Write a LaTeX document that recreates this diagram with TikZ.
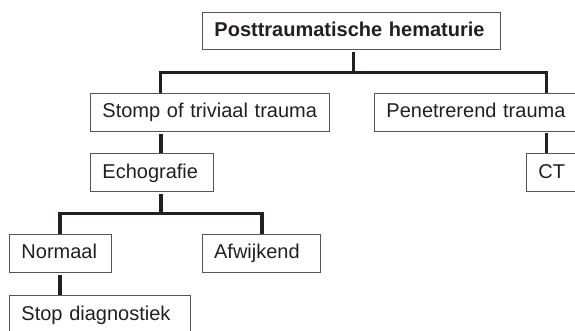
\documentclass[tikz,border=0pt]{standalone}
\usepackage{fontspec}
\setmainfont{Liberation Sans}
\definecolor{ink}{HTML}{231F20}
\definecolor{boxc}{HTML}{555555}
\tikzset{
  box/.style={draw=boxc, line width=0.9pt, inner xsep=12pt, inner ysep=0pt,
    minimum height=38pt, text height=14.5pt, text depth=4pt, align=left,
    anchor=north west, text=ink, font=\fontsize{20}{24}\selectfont},
  conn/.style={draw=ink, line width=3.2pt, line join=miter, line cap=butt}
}
\begin{document}
\begin{tikzpicture}[x=1pt,y=1pt]
\useasboundingbox (0,0) rectangle (575,330);
\clip (0,0) rectangle (575,330);
% boxes (x left, y top in pixel coords -> y = 330 - top)
\node[box, text width=274pt, minimum height=37pt, font=\fontsize{20}{24}\selectfont\bfseries] (top) at (202,318) {Posttraumatische hematurie};
\node[box, text width=215pt] (stomp) at (90,237.3) {Stomp of triviaal trauma};
\node[box, text width=206pt] (pen) at (374,237.5) {Penetrerend trauma};
\node[box, text width=99pt] (echo) at (90,176.7) {Echografie};
\node[box, text width=56pt] (ct) at (526,176.7) {CT};
\node[box, text width=78pt] (norm) at (9,96) {Normaal};
\node[box, text width=94.3pt] (afw) at (201.7,96) {Afwijkend};
\node[box, text width=157pt] (stop) at (9,34.7) {Stop diagnostiek};
% junction coordinates
\coordinate (j1) at (353.7,257.5);
\coordinate (j1l) at (160.5,257.5);
\coordinate (j1r) at (546.5,257.5);
\coordinate (j2) at (161,116.7);
\coordinate (j2l) at (60,116.7);
\coordinate (j2r) at (262,116.7);
\coordinate (sx) at (161,0);
\coordinate (cx) at (546.5,0);
\coordinate (nx) at (60,0);
% connectors
\draw[conn] ([yshift=-2pt]top.south -| j1) -- (j1);
\draw[conn] (stomp.north -| j1l) -- (j1l) -- (j1r) -- (pen.north -| j1r);
\draw[conn] ([yshift=-2pt]stomp.south -| sx) -- (echo.north -| sx);
\draw[conn] ([yshift=-2pt]pen.south -| cx) -- (ct.north -| cx);
\draw[conn] ([yshift=-2pt]echo.south -| j2) -- (j2);
\draw[conn] (norm.north -| j2l) -- (j2l) -- (j2r) -- (afw.north -| j2r);
\draw[conn] ([yshift=-2pt]norm.south -| nx) -- (stop.north -| nx);
\end{tikzpicture}
\end{document}
